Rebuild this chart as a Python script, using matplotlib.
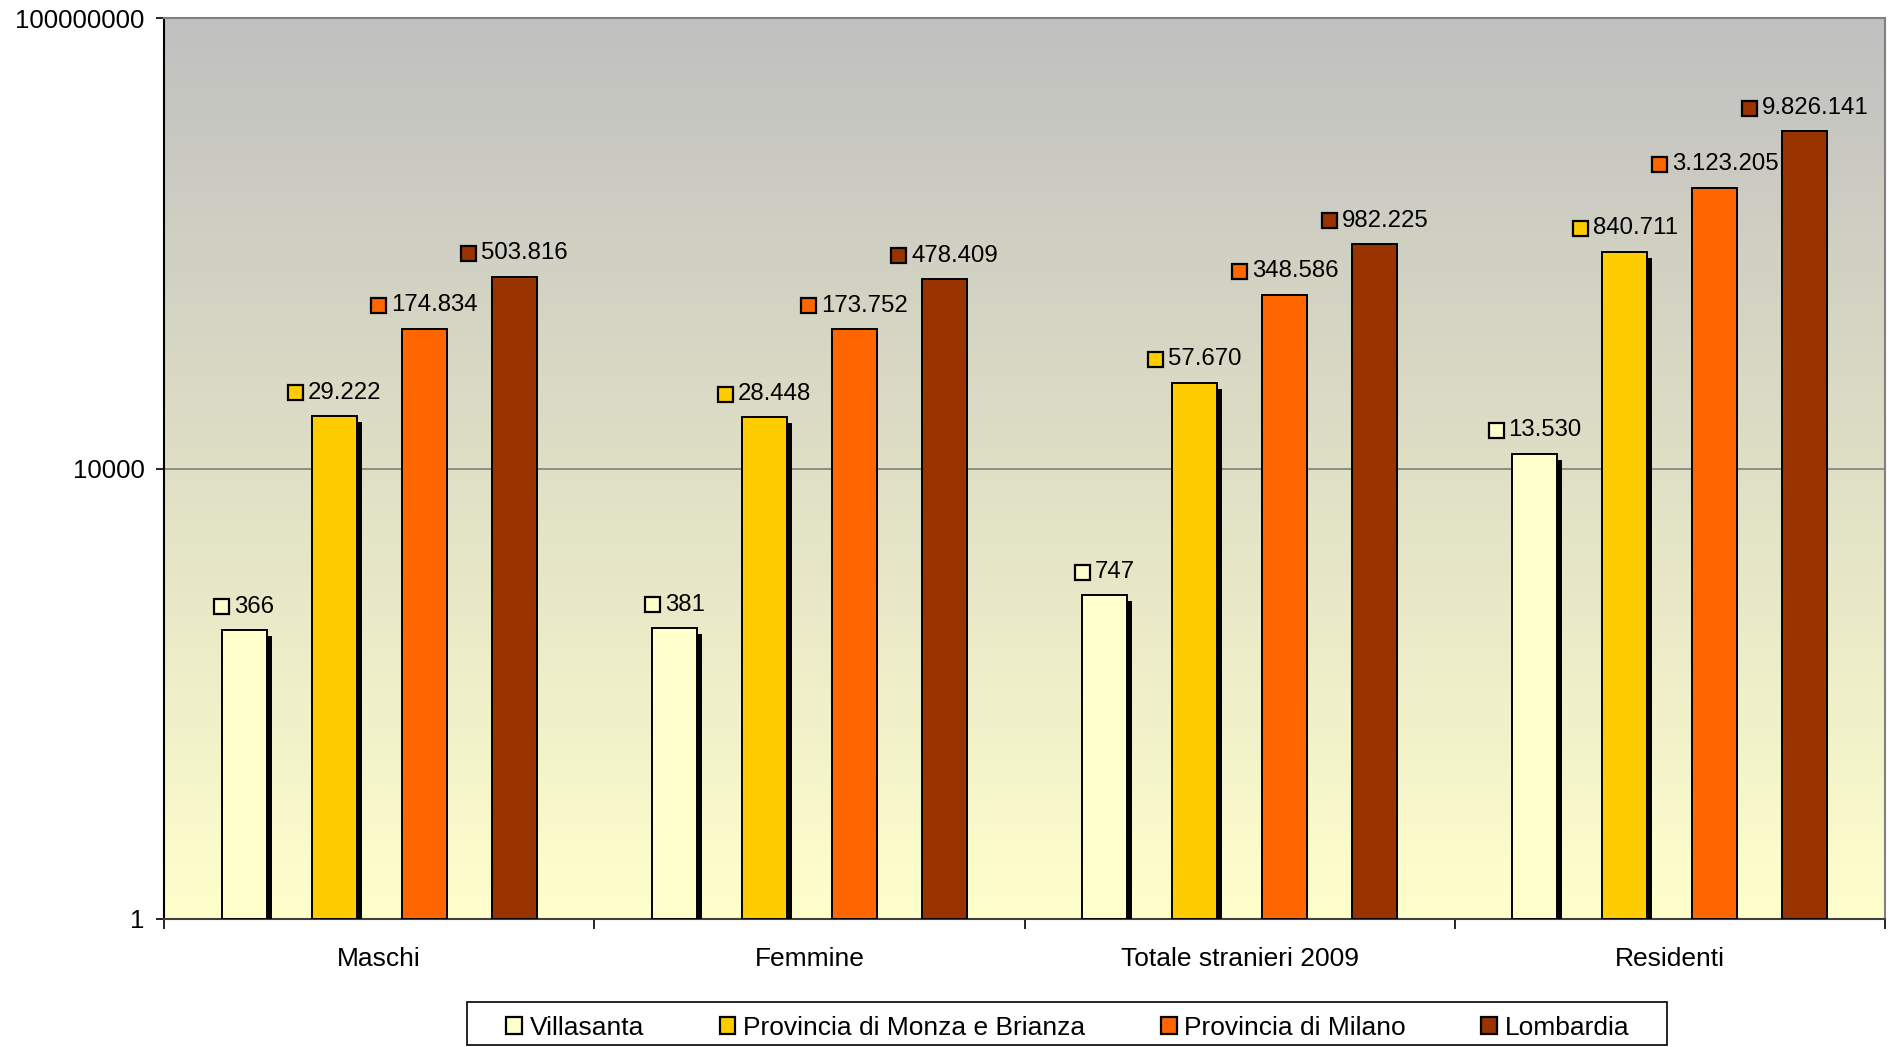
import numpy as np
import matplotlib.pyplot as plt
import matplotlib.patheffects as pe
from matplotlib.patches import Rectangle
from matplotlib.offsetbox import DrawingArea, TextArea, HPacker, AnnotationBbox

plt.rcParams['font.family'] = ['Liberation Sans', 'DejaVu Sans']

categories = ['Maschi', 'Femmine', 'Totale stranieri 2009', 'Residenti']
series = ['Villasanta', 'Provincia di Monza e Brianza', 'Provincia di Milano', 'Lombardia']
colors = ['#FFFFCC', '#FFCC00', '#FF6600', '#993300']

villasanta = [366, 381, 747, 13530]
monza = [29222, 28448, 57670, 840711]
milano = [174834, 173752, 348586, 3123205]
lombardia = [503816, 478409, 982225, 9826141]
values = [villasanta, monza, milano, lombardia]

W, H = 1892, 1047
fig = plt.figure(figsize=(W / 100, H / 100), dpi=100)
ax = fig.add_axes([164 / W, 128 / H, (1885 - 164) / W, (1029 - 128) / H])

# gradient background
top = np.array([192, 192, 192]) / 255
bot = np.array([255, 255, 204]) / 255
t = np.linspace(0, 1, 256)[:, None]
grad = (top * (1 - t) + bot * t)[:, None, :]
ax.imshow(grad, extent=[0, 1, 0, 1], transform=ax.transAxes, aspect='auto', zorder=0)

ax.set_yscale('log')
ax.set_ylim(1, 1e8)
ax.set_xlim(-0.5, 3.5)

x = np.arange(len(categories))
step = 0.2093
width = 0.1047
fs_lab = 17.3


def fmt(v):
    return f'{v:,}'.replace(',', '.')


for i, (name, vals, col) in enumerate(zip(series, values, colors)):
    pos = x + (i - 1.5) * step
    bars = ax.bar(pos, [v - 1 for v in vals], bottom=1, width=width, color=col,
                  edgecolor='black', linewidth=1.4, zorder=3)
    if i < 2:
        for b in bars:
            b.set_path_effects([pe.SimplePatchShadow(offset=(3.6, -4.2), shadow_rgbFace='black', alpha=1.0),
                                pe.Normal()])
    for px, v in zip(pos, vals):
        da = DrawingArea(12, 12, 0, 0)
        da.add_artist(Rectangle((0.6, 0.6), 10.8, 10.8, facecolor=col, edgecolor='black', linewidth=1.6))
        ta = TextArea(fmt(v), textprops=dict(fontsize=fs_lab, color='black'))
        box = HPacker(children=[da, ta], align='center', pad=0, sep=3)
        ab = AnnotationBbox(box, (px, v), xybox=(0, 16.8), xycoords='data', boxcoords='offset points',
                            box_alignment=(0.5, 0.5), frameon=False, pad=0, zorder=5)
        ax.add_artist(ab)

# y axis: only 1, 10000, 100000000
ax.set_yticks([1, 1e4, 1e8])
ax.set_yticklabels(['1', '10000', '100000000'], fontsize=18.5)
ax.yaxis.set_minor_locator(plt.NullLocator())
ax.axhline(1e4, color='#808080', linewidth=1.2, zorder=1)
ax.tick_params(axis='y', which='major', length=6, width=1.2, pad=8, direction='out')

ax.set_xticks(x)
ax.set_xticklabels(categories, fontsize=19)
ax.set_xticks(np.arange(-0.5, 4.0, 1.0), minor=True)
ax.tick_params(axis='x', which='major', length=0, pad=20)
ax.tick_params(axis='x', which='minor', length=7, width=1.2, direction='out')

ax.spines['left'].set_color('black')
ax.spines['left'].set_linewidth(1.5)
ax.spines['bottom'].set_color('#404040')
ax.spines['bottom'].set_linewidth(1.5)
ax.spines['top'].set_color('#808080')
ax.spines['top'].set_linewidth(1.5)
ax.spines['right'].set_color('#808080')
ax.spines['right'].set_linewidth(1.5)

# legend: box drawn separately, entries centred inside
fig.patches.append(Rectangle((467 / W, 2 / H), 1200 / W, 43 / H, transform=fig.transFigure,
                             facecolor='white', edgecolor='black', linewidth=1.2, zorder=1))
handles = [Rectangle((0, 0), 1, 1, facecolor=c, edgecolor='black', linewidth=1.6) for c in colors]
leg = fig.legend(handles, series, loc='center', bbox_to_anchor=(1068 / W, 19 / H),
                 ncol=4, fontsize=19, frameon=False, handlelength=0.6, handleheight=0.6,
                 handletextpad=0.3, columnspacing=2.85, borderaxespad=0, borderpad=0)
leg.set_zorder(2)

fig.savefig('out.png', dpi=100)
